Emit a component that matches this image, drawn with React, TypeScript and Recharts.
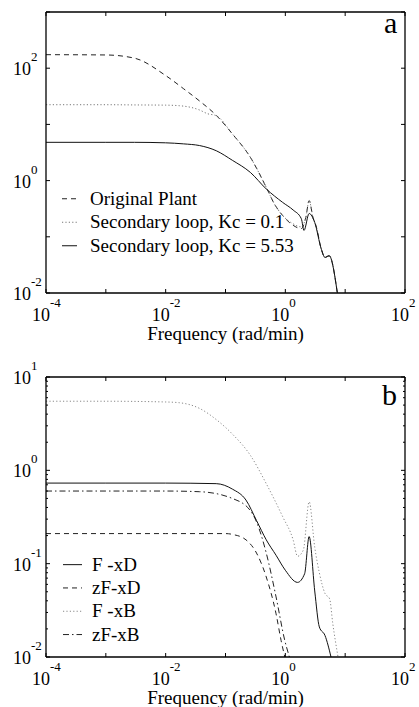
import type { ReactElement } from 'react';
import { Label, Legend, Line, LineChart, XAxis, YAxis } from 'recharts';

const FONT = '"Liberation Serif", "DejaVu Serif", serif';

// (a) magnitude of the plant and of the secondary loops
const plantFreq = [1e-4, 1e-3, 3e-3, 0.01, 0.02, 0.037, 0.07, 0.13, 0.26, 0.48, 0.66, 0.9, 1.35, 1.85, 2.2, 2.5, 2.9, 3.3, 4.0, 4.6, 5.4, 7.4];
const plantMag = [174, 172, 151, 74, 43, 26, 14.5, 6.8, 2.6, 0.76, 0.38, 0.24, 0.16, 0.14, 0.22, 0.44, 0.22, 0.15, 0.06, 0.043, 0.046, 0.01];

const kc01Freq = [1e-4, 1e-3, 3e-3, 0.01, 0.017, 0.037, 0.05, 0.07, 0.13, 0.26, 0.48, 0.66, 0.9, 1.35, 1.85, 2.2, 2.5, 2.9, 3.3, 4.0, 4.6, 5.4, 7.4];
const kc01Mag = [22.4, 22.4, 22.2, 22, 21.5, 18, 15.5, 14.3, 6.8, 2.6, 0.76, 0.38, 0.24, 0.17, 0.15, 0.22, 0.44, 0.22, 0.15, 0.06, 0.043, 0.046, 0.01];

const kc553Freq = [1e-4, 1e-3, 3e-3, 0.01, 0.02, 0.037, 0.07, 0.13, 0.26, 0.48, 0.9, 1.35, 1.85, 2.05, 2.5, 3.1, 4.0, 4.6, 5.4, 7.4];
const kc553Mag = [4.8, 4.8, 4.8, 4.7, 4.5, 4.2, 3.4, 2.3, 1.4, 0.71, 0.41, 0.3, 0.21, 0.13, 0.26, 0.18, 0.06, 0.043, 0.046, 0.01];

// (b) disturbance responses
const fxdFreq = [1e-4, 1e-3, 0.01, 0.07, 0.13, 0.22, 0.33, 0.48, 0.7, 1.0, 1.6, 2.1, 2.5, 3.1, 3.7, 4.6, 5.8];
const fxdMag = [0.73, 0.73, 0.73, 0.72, 0.63, 0.48, 0.29, 0.18, 0.123, 0.085, 0.063, 0.078, 0.195, 0.051, 0.021, 0.017, 0.01];

const zfxdFreq = [1e-4, 1e-3, 0.01, 0.1, 0.135, 0.22, 0.33, 0.48, 0.7, 0.85, 0.98];
const zfxdMag = [0.21, 0.21, 0.21, 0.21, 0.205, 0.18, 0.13, 0.072, 0.029, 0.015, 0.01];

const fxbFreq = [1e-4, 1e-3, 0.01, 0.017, 0.037, 0.07, 0.13, 0.26, 0.48, 0.9, 1.35, 1.6, 2.0, 2.5, 3.1, 3.7, 4.6, 5.5, 6.2, 7.6];
const fxbMag = [5.5, 5.5, 5.4, 5.3, 4.6, 3.5, 2.45, 1.45, 0.72, 0.32, 0.18, 0.12, 0.14, 0.46, 0.15, 0.08, 0.048, 0.042, 0.023, 0.01];

const zfxbFreq = [1e-4, 1e-3, 0.01, 0.037, 0.13, 0.26, 0.33, 0.48, 0.7, 0.98, 1.17];
const zfxbMag = [0.6, 0.6, 0.6, 0.59, 0.5, 0.37, 0.28, 0.13, 0.044, 0.015, 0.01];

const freqTicks = [1e-4, 1e-3, 1e-2, 1e-1, 1, 10, 100];
const freqLabels = [-4, -2, 0, 2];
const magTicksA = [1e-2, 1e-1, 1, 10, 100, 1000];
const magLabelsA = [-2, 0, 2];
const magDecadesB = [1e-2, 1e-1, 1, 10];
const magLabelsB = [-2, -1, 0, 1];
const minorSteps = [2, 3, 4, 5, 6, 7, 8, 9];
const magTicksB = [...magDecadesB, ...magDecadesB.slice(0, 3).flatMap((d) => minorSteps.map((s) => s * d))];

interface Series {
  name: string;
  freq: number[];
  mag: number[];
  stroke: string;
  dash?: string;
}

const DASH = '5 4';
const DOT = '1.2 2.2';
const DASHDOT = '6 3 1.5 3';

const seriesA: Series[] = [
  { name: 'Original Plant', freq: plantFreq, mag: plantMag, stroke: '#222', dash: DASH },
  { name: 'Secondary loop, Kc = 0.1', freq: kc01Freq, mag: kc01Mag, stroke: '#777', dash: DOT },
  { name: 'Secondary loop, Kc = 5.53', freq: kc553Freq, mag: kc553Mag, stroke: '#111' },
];

const seriesB: Series[] = [
  { name: 'F -xD', freq: fxdFreq, mag: fxdMag, stroke: '#111' },
  { name: 'zF-xD', freq: zfxdFreq, mag: zfxdMag, stroke: '#222', dash: DASH },
  { name: 'F -xB', freq: fxbFreq, mag: fxbMag, stroke: '#888', dash: DOT },
  { name: 'zF-xB', freq: zfxbFreq, mag: zfxbMag, stroke: '#222', dash: DASHDOT },
];

const toPoints = (s: Series) => s.freq.map((f, i) => ({ f, m: s.mag[i] }));
const expOf = (v: number) => Math.log10(v);
const isDecade = (v: number) => Math.abs(expOf(v) - Math.round(expOf(v))) < 1e-6;

function Power({ x, y, e }: { x: number; y: number; e: number }) {
  return (
    <text x={x} y={y} fontFamily={FONT} fontSize={18} fill="#000">
      10
      <tspan dy={-14} fontSize={13}>
        {e}
      </tspan>
    </text>
  );
}

function tickBottom(labels: number[]) {
  return (p: any) => {
    const e = Math.round(expOf(p.payload.value));
    return (
      <g>
        <line x1={p.x} x2={p.x} y1={p.y} y2={p.y - 4} stroke="#000" />
        {labels.includes(e) && <Power x={p.x - 14} y={p.y + 28} e={e} />}
      </g>
    );
  };
}

const tickTop = (p: any) => <line x1={p.x} x2={p.x} y1={p.y} y2={p.y + 4} stroke="#000" />;

function tickLeft(labels: number[]) {
  return (p: any) => {
    const major = isDecade(p.payload.value);
    const e = Math.round(expOf(p.payload.value));
    return (
      <g>
        <line x1={p.x} x2={p.x + (major ? 4 : 2)} y1={p.y} y2={p.y} stroke="#000" />
        {major && labels.includes(e) && <Power x={p.x - 33} y={p.y + 7} e={e} />}
      </g>
    );
  };
}

const tickRight = (p: any) => {
  const major = isDecade(p.payload.value);
  return <line x1={p.x} x2={p.x - (major ? 4 : 2)} y1={p.y} y2={p.y} stroke="#000" />;
};

function Key({ series, gap, sample, textX }: { series: Series[]; gap: number; sample: number; textX: number }) {
  return (
    <svg width={250} height={series.length * gap} style={{ display: 'block' }}>
      {series.map((s, i) => {
        const cy = gap / 2 + i * gap;
        return (
          <g key={s.name}>
            <line x1={0} x2={sample} y1={cy} y2={cy} stroke={s.stroke} strokeDasharray={s.dash} />
            <text x={textX} y={cy + 6} fontFamily={FONT} fontSize={19} fill="#000">
              {s.name}
            </text>
          </g>
        );
      })}
    </svg>
  );
}

interface PanelProps {
  series: Series[];
  top: number;
  height: number;
  marginTop: number;
  marginBottom: number;
  magDomain: [number, number];
  magTicks: number[];
  magLabels: number[];
  legendTop: number;
  legendLeft: number;
  legendGap: number;
  sample: number;
  textX: number;
}

function Panel(p: PanelProps): ReactElement {
  const axisLine = { stroke: '#000', strokeWidth: 1.3 };
  return (
    <div style={{ position: 'absolute', left: 0, top: p.top }}>
      <LineChart
        width={419}
        height={p.height}
        margin={{ top: p.marginTop, right: 13, bottom: p.marginBottom, left: 0 }}
      >
        <XAxis
          dataKey="f"
          type="number"
          scale="log"
          domain={[1e-4, 100]}
          allowDataOverflow
          ticks={freqTicks}
          interval={0}
          tickSize={0}
          tickMargin={0}
          tickLine={false}
          axisLine={axisLine}
          height={50}
          tick={tickBottom(freqLabels)}
        >
          <Label
            value="Frequency (rad/min)"
            position="insideBottom"
            offset={3}
            fontFamily={FONT}
            fontSize={19}
            fill="#000"
          />
        </XAxis>
        <XAxis
          xAxisId="top"
          orientation="top"
          dataKey="f"
          type="number"
          scale="log"
          domain={[1e-4, 100]}
          allowDataOverflow
          ticks={freqTicks}
          interval={0}
          tickSize={0}
          tickMargin={0}
          tickLine={false}
          axisLine={axisLine}
          height={1}
          tick={tickTop}
        />
        <YAxis
          type="number"
          scale="log"
          domain={p.magDomain}
          allowDataOverflow
          ticks={p.magTicks}
          interval={0}
          tickSize={0}
          tickMargin={0}
          tickLine={false}
          axisLine={axisLine}
          width={46}
          tick={tickLeft(p.magLabels)}
        />
        <YAxis
          yAxisId="right"
          orientation="right"
          type="number"
          scale="log"
          domain={p.magDomain}
          allowDataOverflow
          ticks={p.magTicks}
          interval={0}
          tickSize={0}
          tickMargin={0}
          tickLine={false}
          axisLine={axisLine}
          width={1}
          tick={tickRight}
        />
        {p.series.map((s) => (
          <Line
            key={s.name}
            name={s.name}
            data={toPoints(s)}
            dataKey="m"
            type="monotone"
            stroke={s.stroke}
            strokeWidth={1}
            strokeDasharray={s.dash}
            dot={false}
            activeDot={false}
            isAnimationActive={false}
          />
        ))}
        <Legend
          layout="vertical"
          align="center"
          verticalAlign="middle"
          wrapperStyle={{ left: p.legendLeft, top: p.legendTop, width: 250 }}
          content={() => <Key series={p.series} gap={p.legendGap} sample={p.sample} textX={p.textX} />}
        />
      </LineChart>
    </div>
  );
}

export default function App(): ReactElement {
  return (
    <div style={{ position: 'absolute', left: 0, top: 0, width: 419, height: 707, background: '#fff' }}>
      <Panel
        series={seriesA}
        top={0}
        height={345}
        marginTop={11}
        marginBottom={2}
        magDomain={[1e-2, 1e3]}
        magTicks={magTicksA}
        magLabels={magLabelsA}
        legendTop={187}
        legendLeft={62}
        legendGap={23.5}
        sample={15}
        textX={28}
      />
      <Panel
        series={seriesB}
        top={345}
        height={362}
        marginTop={31}
        marginBottom={0}
        magDomain={[1e-2, 10]}
        magTicks={magTicksB}
        magLabels={magLabelsB}
        legendTop={208}
        legendLeft={63}
        legendGap={23.3}
        sample={19}
        textX={29}
      />
      <svg width={419} height={707} style={{ position: 'absolute', left: 0, top: 0, pointerEvents: 'none' }}>
        <text x={384} y={33} fontFamily={FONT} fontSize={30} fill="#000">
          a
        </text>
        <text x={382} y={405} fontFamily={FONT} fontSize={30} fill="#000">
          b
        </text>
      </svg>
    </div>
  );
}
